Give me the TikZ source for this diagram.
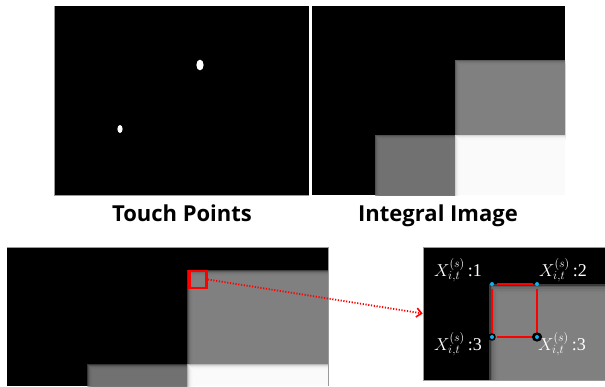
\documentclass[tikz,border=0pt]{standalone}
\usepackage{fontspec}
\setmainfont{Liberation Serif}
\newfontfamily\captionfont{Open Sans}
\usetikzlibrary{arrows.meta,calc}

\definecolor{midgray}{HTML}{838383}
\definecolor{lowgray}{HTML}{747474}
\definecolor{dotblue}{HTML}{10B0F0}
\definecolor{edgegray}{HTML}{9A9A9A}

% Rectangle with soft edges: colour, x1, y1, x2, y2, blur radius
\newcommand{\softbox}[6]{%
  \foreach \k in {0,...,6}{%
    \pgfmathsetmacro\e{#6*(1-2*\k/6)}%
    \fill[#1, fill opacity=0.45] ({#2-\e},{#3-\e}) rectangle ({#4+\e},{#5+\e});
  }%
}

\tikzset{
  panel/.style={fill=black, draw=edgegray, line width=0.6pt},
  caption/.style={font=\captionfont\bfseries\fontsize{22}{26}\selectfont, text=black, inner sep=0pt, anchor=base},
  xlabel/.style={font=\fontsize{18}{20}\selectfont, text=white, inner sep=0pt, anchor=base west},
  redline/.style={draw=red, line width=2.6pt},
  corner/.style={fill=dotblue},
}

\begin{document}
\begin{tikzpicture}[x=1pt, y=-1pt]
\useasboundingbox (0,0) rectangle (605,386);
\fill[white] (0,0) rectangle (605,386);

% ---- touch points ----
\fill[black] (54,6) rectangle (309,196);
\draw[edgegray, line width=0.8pt] (54.4,6) -- (54.4,195.6) -- (309,195.6);
\fill[white] (200,65) ellipse [x radius=3.6, y radius=5.4];
\fill[white] (120,129) ellipse [x radius=2.6, y radius=4];
\node[caption] (tpcap) at (182,221.5) {Touch Points};

% ---- integral image ----
\begin{scope}
  \clip (312,6) rectangle (565,195);
  \fill[black] (312,6) rectangle (565,195);
  \softbox{midgray}{457}{62}{575}{137}{2.5}
  \softbox{lowgray}{377}{137}{457}{205}{2.5}
  \softbox{white}{457}{137}{575}{205}{2.5}
\end{scope}
\node[caption] (iicap) at (438,221) {Integral Image};

% ---- enlarged integral image ----
\begin{scope}
  \clip (7,247) rectangle (328,386);
  \fill[black] (7,247) rectangle (328,386);
  \softbox{midgray}{190}{273}{340}{367}{3}
  \softbox{lowgray}{90}{367}{190}{396}{3}
  \softbox{white}{190}{367}{340}{396}{3}
\end{scope}
\draw[edgegray, line width=0.5pt] (7,247) -- (328,247) -- (328,386);
\node[redline, minimum width=17pt, minimum height=17pt, inner sep=0pt] (win) at (198,279.5) {};

% ---- detail of the window ----
\begin{scope}
  \clip (423,247) rectangle (605,380);
  \fill[black] (423,247) rectangle (605,380);
  \softbox{midgray}{494}{289}{620}{395}{5}
\end{scope}
\node[draw=edgegray, line width=0.6pt, minimum width=182pt, minimum height=133pt, inner sep=0pt] (detail) at (514,313.5) {};

\draw[red, line width=1.8pt, dash pattern=on 1.2pt off 1.6pt,
      -{Straight Barb[length=5pt, width=9pt, line width=1.6pt]}]
  (win.east) -- (detail.west);

\coordinate (c1) at (492,284);
\coordinate (c2) at (537,284);
\coordinate (c3) at (492,337);
\coordinate (c4) at (537,337);
\draw[redline, shorten <=4.5pt, shorten >=4.5pt] (c1) -- (c2);
\draw[redline, shorten <=4.5pt, shorten >=4.5pt] (c2) -- (c4);
\draw[redline, shorten <=4.5pt, shorten >=4.5pt] (c1) -- (c3);
\draw[redline, shorten <=4.5pt, shorten >=4.5pt] (c3) -- (c4);
\fill[black] (c3) circle [radius=3.8];
\fill[black] (c4) ellipse [x radius=5.2, y radius=4.6];
\foreach \c in {c1,c2,c3,c4} \fill[corner] (\c) circle [radius=2];

\node[xlabel] (l1) at (434,276) {$X^{(s)}_{i,t}$\,:1};
\node[xlabel] (l2) at (539,276) {$X^{(s)}_{i,t}$\,:2};
\node[xlabel] (l3) at (434,350) {$X^{(s)}_{i,t}$\,:3};
\node[xlabel] (l4) at (538,350) {$X^{(s)}_{i,t}$\,:3};
\end{tikzpicture}
\end{document}
